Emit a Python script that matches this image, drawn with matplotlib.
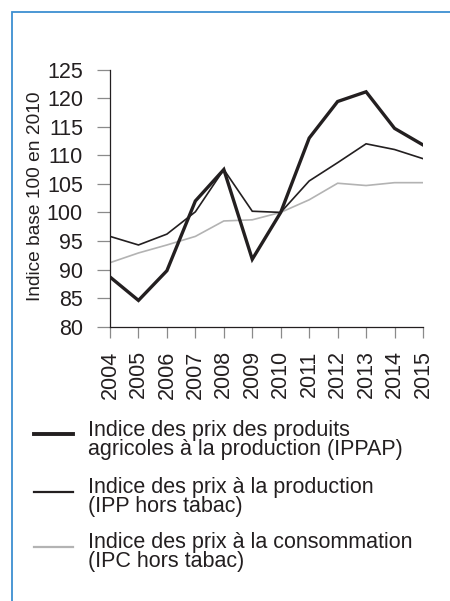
import matplotlib
matplotlib.use("Agg")
import matplotlib.pyplot as plt
from matplotlib.lines import Line2D
from matplotlib.patches import Rectangle

plt.rcParams['font.family'] = ['Liberation Sans', 'DejaVu Sans']

years = [2004, 2005, 2006, 2007, 2008, 2009, 2010, 2011, 2012, 2013, 2014, 2015]
ippap = [88.7, 84.6, 89.8, 102.0, 107.5, 91.8, 100.0, 113.0, 119.4, 121.1, 114.7, 111.8]
ipp = [95.8, 94.3, 96.2, 100.1, 107.5, 100.2, 100.0, 105.5, 108.7, 112.0, 111.0, 109.4]
ipc = [91.2, 92.9, 94.3, 95.8, 98.5, 98.7, 100.0, 102.2, 105.1, 104.7, 105.2, 105.2]
yticks = [80, 85, 90, 95, 100, 105, 110, 115, 120, 125]

labels = ["Indice des prix des produits\nagricoles à la production (IPPAP)",
          "Indice des prix à la production\n(IPP hors tabac)",
          "Indice des prix à la consommation\n(IPC hors tabac)"]
colors = ["#231f20", "#231f20", "#b3b3b3"]
widths = [2.4, 1.2, 1.2]

W, H = 450, 601
fig = plt.figure(figsize=(W / 100, H / 100), dpi=100)

# blue frame around the chart (only top and left edges fall inside the image)
fig.patches.append(Rectangle((11.5 / W, -0.1), 1.2, 1 - 11.5 / H + 0.1,
                             transform=fig.transFigure, fill=False,
                             edgecolor="#3d8fd1", linewidth=1.3))

ax = fig.add_axes([110 / W, 1 - 326.7 / H, 313 / W, (326.7 - 69.5) / H])
for vals, c, lw in zip([ipc, ipp, ippap], colors[::-1], widths[::-1]):
    ax.plot(years, vals, color=c, linewidth=lw, solid_joinstyle='miter')

ax.set_xlim(2004, 2015)
ax.set_ylim(80, 125)
ax.set_yticks(yticks)
ax.set_xticks(years)
ax.set_xticklabels([str(y) for y in years], rotation=90)
for s in ["top", "right"]:
    ax.spines[s].set_visible(False)
for s in ["left", "bottom"]:
    ax.spines[s].set_color("#231f20")
    ax.spines[s].set_linewidth(0.9)
ax.tick_params(axis='y', length=9.5, width=0.9, color="#8a8a8a", pad=10,
               labelsize=15.5, labelcolor="#231f20")
ax.tick_params(axis='x', length=8, width=0.9, color="#8a8a8a", pad=9,
               labelsize=15.5, labelcolor="#231f20")

fig.text(36 / W, 1 - 196 / H, "Indice base 100 en 2010", rotation=90,
         ha='center', va='center', fontsize=13.8, color="#231f20")

# legend drawn by hand: line sample plus two-line label
line_y = [434, 492, 547]
text_y = [440, 497, 552]
for lab, c, lw, ly, ty in zip(labels, colors, widths, line_y, text_y):
    fig.lines.append(Line2D([34 / W, 73 / W], [1 - ly / H, 1 - ly / H],
                            transform=fig.transFigure, color=c, linewidth=lw + 0.4))
    fig.text(88 / W, 1 - ty / H, lab, ha='left', va='center', fontsize=15.5,
             linespacing=0.82, color="#231f20")

fig.savefig("out.png", dpi=100)
